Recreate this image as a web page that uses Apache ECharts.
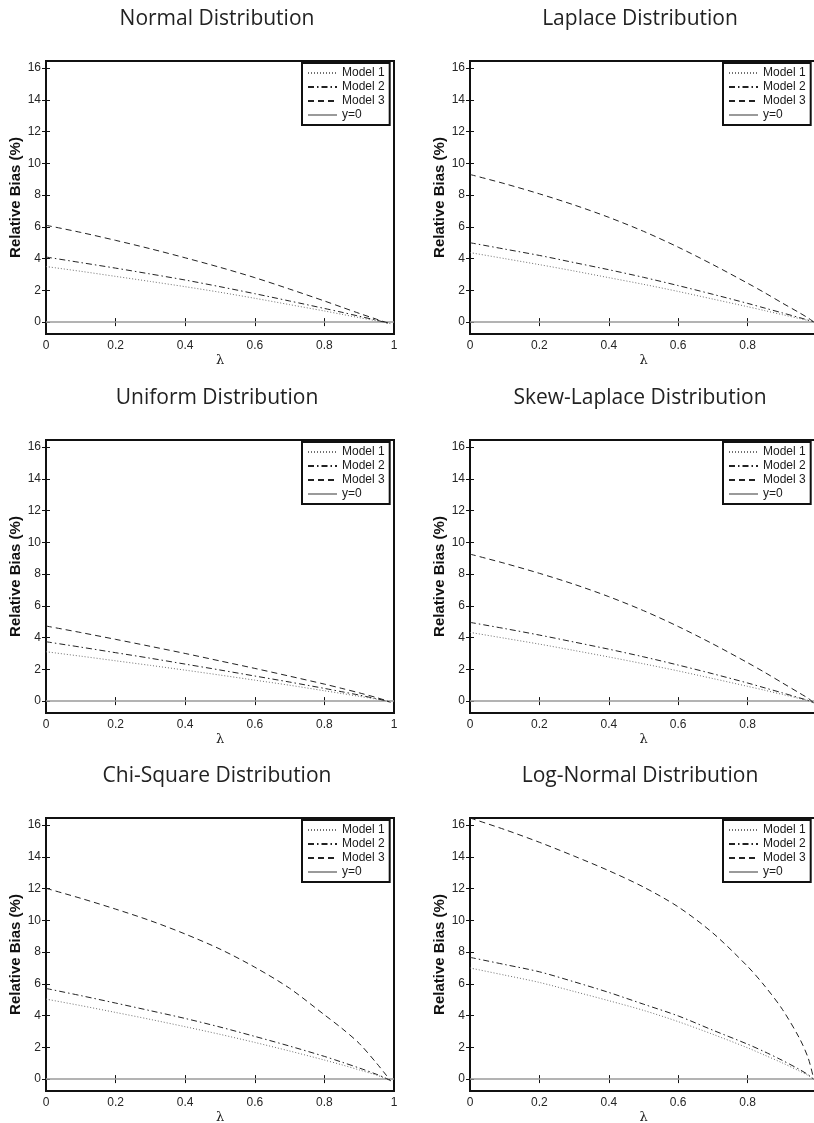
<!DOCTYPE html>
<html>
<head>
<meta charset="utf-8">
<title>Relative Bias</title>
<script src="https://cdn.jsdelivr.net/npm/echarts@6.0.0/dist/echarts.min.js"></script>
<style>
  html, body { margin: 0; padding: 0; background: #fff; }
  #chart { width: 814px; height: 1123px; }
</style>
</head>
<body>
<div id="chart"></div>
<script>
// lambda grid
const lambda = [0, 0.1, 0.2, 0.3, 0.4, 0.5, 0.6, 0.7, 0.8, 0.85, 0.9, 0.95, 0.975, 0.99];
const zeroX = [0, 1];
const yTicks = [0, 2, 4, 6, 8, 10, 12, 14, 16];
const seriesNames = ['Model 1', 'Model 2', 'Model 3', 'y=0'];
const titles = ['Normal Distribution', 'Laplace Distribution', 'Uniform Distribution',
  'Skew-Laplace Distribution', 'Chi-Square Distribution', 'Log-Normal Distribution'];

// relative bias (%) read per distribution
const normalM1 = [3.50, 3.20, 2.88, 2.56, 2.23, 1.88, 1.50, 1.10, 0.70, 0.49, 0.28, 0.08, -0.03, -0.10];
const normalM2 = [4.10, 3.75, 3.40, 3.03, 2.65, 2.23, 1.79, 1.33, 0.86, 0.62, 0.37, 0.12, -0.02, -0.10];
const normalM3 = [6.10, 5.65, 5.15, 4.62, 4.05, 3.45, 2.80, 2.08, 1.33, 0.94, 0.55, 0.18, 0.00, -0.10];

const laplaceM1 = [4.38, 4.00, 3.62, 3.22, 2.80, 2.38, 1.93, 1.45, 0.97, 0.72, 0.47, 0.22, 0.10, 0.02];
const laplaceM2 = [5.00, 4.60, 4.20, 3.75, 3.30, 2.82, 2.30, 1.75, 1.18, 0.88, 0.58, 0.28, 0.12, 0.02];
const laplaceM3 = [9.30, 8.72, 8.08, 7.38, 6.60, 5.72, 4.72, 3.62, 2.45, 1.84, 1.20, 0.58, 0.25, 0.02];

const uniformM1 = [3.11, 2.83, 2.54, 2.25, 1.95, 1.64, 1.32, 1.00, 0.65, 0.48, 0.30, 0.12, 0.02, -0.08];
const uniformM2 = [3.74, 3.40, 3.05, 2.70, 2.33, 1.96, 1.58, 1.20, 0.80, 0.59, 0.38, 0.15, 0.03, -0.08];
const uniformM3 = [4.73, 4.32, 3.89, 3.45, 3.00, 2.53, 2.06, 1.57, 1.07, 0.80, 0.52, 0.22, 0.05, -0.08];

const skewM1 = [4.33, 3.96, 3.59, 3.19, 2.78, 2.35, 1.90, 1.42, 0.93, 0.68, 0.42, 0.16, 0.02, -0.10];
const skewM2 = [4.96, 4.57, 4.16, 3.72, 3.27, 2.79, 2.27, 1.72, 1.14, 0.83, 0.52, 0.20, 0.04, -0.10];
const skewM3 = [9.26, 8.68, 8.05, 7.36, 6.58, 5.70, 4.70, 3.60, 2.42, 1.80, 1.15, 0.50, 0.17, -0.10];

const chiM1 = [5.04, 4.63, 4.20, 3.76, 3.30, 2.82, 2.31, 1.77, 1.20, 0.90, 0.58, 0.25, 0.05, -0.10];
const chiM2 = [5.71, 5.26, 4.79, 4.31, 3.82, 3.28, 2.69, 2.08, 1.43, 1.07, 0.70, 0.30, 0.07, -0.10];
const chiM3 = [12.02, 11.39, 10.71, 9.98, 9.14, 8.19, 7.05, 5.72, 4.05, 3.20, 2.25, 1.00, 0.32, -0.10];

const logM1 = [7.00, 6.55, 6.09, 5.52, 4.94, 4.33, 3.62, 2.82, 1.97, 1.50, 1.02, 0.50, 0.22, 0.00];
const logM2 = [7.67, 7.22, 6.76, 6.13, 5.46, 4.72, 3.98, 3.08, 2.20, 1.71, 1.18, 0.60, 0.27, 0.00];
const logM3 = [16.45, 15.72, 14.92, 14.05, 13.13, 12.10, 10.85, 9.20, 7.10, 5.85, 4.40, 2.55, 1.30, 0.05];

const panelData = [
  [normalM1, normalM2, normalM3],
  [laplaceM1, laplaceM2, laplaceM3],
  [uniformM1, uniformM2, uniformM3],
  [skewM1, skewM2, skewM3],
  [chiM1, chiM2, chiM3],
  [logM1, logM2, logM3]
];

// 版面
const colLeft = [46, 470];
const colWidth = [348, 347];
const rowTop = [61, 440, 818];
const plotHeight = 273;
const titleCenter = [212, 635];
const titleTop = [4, 383, 761];
const legendLeft = [302, 723];

// 线型: dotted, dash-dot, dashed, y=0
const lineStyles = [
  { color: '#707070', width: 1, type: [1, 2] },
  { color: '#222', width: 1, type: [6, 3, 1.5, 3] },
  { color: '#222', width: 1, type: [6, 4] },
  { color: '#9a9a9a', width: 1.5, type: 'solid' }
];

const tickFont = { fontFamily: 'Liberation Sans', fontSize: 12, color: '#262626' };

const option = {
  backgroundColor: '#fff',
  animation: false,
  title: [], grid: [], xAxis: [], yAxis: [], legend: [], series: []
};

panelData.forEach((models, i) => {
  const row = Math.floor(i / 2);
  const col = i % 2;

  option.title.push({
    text: titles[i],
    left: titleCenter[col],
    top: titleTop[row],
    textAlign: 'center',
    textStyle: { fontFamily: 'Open Sans', fontWeight: 'normal', fontSize: 21, color: '#222' }
  });

  option.grid.push({
    left: colLeft[col], top: rowTop[row], width: colWidth[col], height: plotHeight,
    outerBoundsMode: 'none', containLabel: false,
    show: true, borderColor: '#111', borderWidth: 2, backgroundColor: '#fff'
  });

  // bottom + top x axes
  option.xAxis.push({
    type: 'value', gridIndex: i, min: 0, max: 1, interval: 0.2, position: 'bottom',
    axisLine: { show: false },
    axisTick: { inside: true, length: 4, lineStyle: { color: '#111' } },
    splitLine: { show: false },
    axisLabel: Object.assign({ margin: 6 }, tickFont),
    name: 'λ', nameLocation: 'middle', nameGap: 20,
    nameTextStyle: { fontFamily: 'DejaVu Serif', fontSize: 13, color: '#222' }
  });
  option.xAxis.push({
    type: 'value', gridIndex: i, min: 0, max: 1, interval: 0.2, position: 'top',
    axisLine: { show: false },
    axisTick: { inside: true, length: 4, lineStyle: { color: '#111' } },
    splitLine: { show: false },
    axisLabel: { show: false }
  });

  // left + right y axes
  option.yAxis.push({
    type: 'value', gridIndex: i, min: -0.75, max: 16.45, position: 'left',
    axisLine: { show: false },
    axisTick: { inside: true, length: 4, customValues: yTicks, lineStyle: { color: '#111' } },
    splitLine: { show: false },
    axisLabel: Object.assign({ margin: 5, customValues: yTicks }, tickFont),
    name: 'Relative Bias (%)', nameLocation: 'middle', nameGap: 21,
    nameTextStyle: { fontFamily: 'Liberation Sans', fontWeight: 'bold', fontSize: 15, color: '#111' }
  });
  option.yAxis.push({
    type: 'value', gridIndex: i, min: -0.75, max: 16.45, position: 'right',
    axisLine: { show: false },
    axisTick: { inside: true, length: 4, customValues: yTicks, lineStyle: { color: '#111' } },
    splitLine: { show: false },
    axisLabel: { show: false }
  });

  option.legend.push({
    orient: 'vertical',
    left: legendLeft[col], top: rowTop[row] + 2,
    data: seriesNames,
    selectedMode: false,
    backgroundColor: '#fff',
    borderColor: '#111', borderWidth: 2, borderRadius: 0,
    padding: [4, 5, 4, 5],
    itemGap: 2, itemWidth: 29, itemHeight: 12,
    itemStyle: { opacity: 0 },
    textStyle: { fontFamily: 'Liberation Sans', fontSize: 12, color: '#1a1a1a' }
  });

  models.forEach((vals, m) => {
    option.series.push({
      name: seriesNames[m], type: 'line',
      xAxisIndex: 2 * i, yAxisIndex: 2 * i,
      data: lambda.map((x, k) => [x, vals[k]]),
      symbol: 'none', smooth: 0.3,
      itemStyle: { color: lineStyles[m].color },
      lineStyle: lineStyles[m],
      emphasis: { disabled: true },
      z: 3
    });
  });
  option.series.push({
    name: 'y=0', type: 'line',
    xAxisIndex: 2 * i, yAxisIndex: 2 * i,
    data: zeroX.map(x => [x, 0]),
    symbol: 'none',
    itemStyle: { color: lineStyles[3].color },
    lineStyle: lineStyles[3],
    emphasis: { disabled: true },
    z: 2
  });
});

const chart = echarts.init(document.getElementById('chart'));
chart.setOption(option);
</script>
</body>
</html>
